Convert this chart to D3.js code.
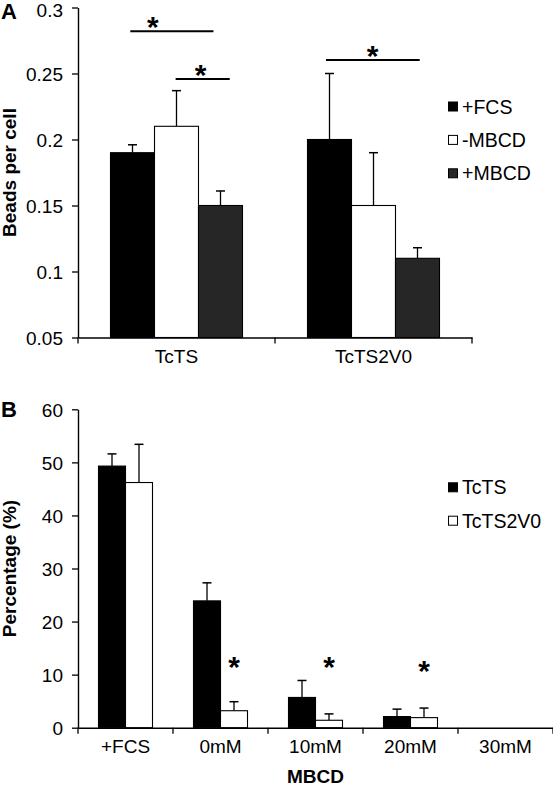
<!DOCTYPE html>
<html><head><meta charset="utf-8">
<script src="https://cdn.jsdelivr.net/npm/d3@7"></script>
<style>body{margin:0;background:#fff}svg{display:block}text{font-family:"Liberation Sans",Arial,sans-serif}</style>
</head><body>
<svg id="c" width="553" height="787"></svg>
<script>
// Panel A data
const catsA = ["TcTS", "TcTS2V0"];
const seriesA = ["+FCS", "-MBCD", "+MBCD"];
const valuesA = [[0.19, 0.21, 0.15], [0.20, 0.15, 0.11]];
const errTopA = [[0.196, 0.237, 0.161], [0.25, 0.19, 0.118]];
const ticksA = [0.05, 0.1, 0.15, 0.2, 0.25, 0.3];
const colorsA = ["#000000", "#ffffff", "#262626"];
// significance brackets (span in series-index units within a category)
const sigA = [
  {cat: "TcTS", from: -0.05, to: 1.84, y: 0.282, star: 0.46},
  {cat: "TcTS", from: 0.98, to: 2.21, y: 0.2458, star: 1.55},
  {cat: "TcTS2V0", from: -0.08, to: 2.05, y: 0.2602, star: 0.98}
];
// Panel B data
const catsB = ["+FCS", "0mM", "10mM", "20mM", "30mM"];
const seriesB = ["TcTS", "TcTS2V0"];
const valuesB = [[49.3, 46.2], [23.9, 3.2], [5.7, 1.4], [2.1, 1.9], [0, 0]];
const errTopB = [[51.6, 53.4], [27.3, 4.9], [8.9, 2.6], [3.5, 3.7], [0, 0]];
const ticksB = [0, 10, 20, 30, 40, 50, 60];
const colorsB = ["#000000", "#ffffff"];
const starsB = [{cat: "0mM", y: 12.4}, {cat: "10mM", y: 12.4}, {cat: "20mM", y: 11.6}];

const svg = d3.select("#c");
const F = '"Liberation Sans",Arial,sans-serif';

function panel(opt) {
  const g = svg.append("g");
  const y = d3.scaleLinear().domain(opt.ydom).range(opt.yr);
  const x = d3.scaleBand().domain(opt.cats).range(opt.xr);
  const bw = x.bandwidth();
  const xs = d3.scaleBand().domain(opt.series.map((d,i)=>i))
    .range([(bw - opt.groupW)/2, (bw + opt.groupW)/2]);
  opt.cats.forEach((c, ci) => {
    opt.series.forEach((s, si) => {
      const v = opt.values[ci][si];
      if (v <= opt.ydom[0]) return;
      const x0 = x(c) + xs(si);
      const cx = x0 + xs.bandwidth()/2;
      const e = opt.err[ci][si];
      g.append("line").attr("x1", cx).attr("x2", cx).attr("y1", y(v)).attr("y2", y(e))
        .attr("stroke", "#000").attr("stroke-width", 1.3);
      g.append("line").attr("x1", cx-4.5).attr("x2", cx+4.5).attr("y1", y(e)).attr("y2", y(e))
        .attr("stroke", "#000").attr("stroke-width", 1.5);
      g.append("rect").attr("x", x0).attr("width", xs.bandwidth())
        .attr("y", y(v)).attr("height", y(opt.ydom[0]) - y(v))
        .attr("fill", opt.colors[si]).attr("stroke", "#000").attr("stroke-width", 1.1);
    });
  });
  const ya = g.append("g").attr("transform", `translate(${opt.xr[0]},0)`)
    .call(d3.axisLeft(y).tickValues(opt.ticks).tickSize(6).tickPadding(9).tickSizeOuter(0)
      .tickFormat(opt.fmt));
  ya.select(".domain").attr("stroke-width", 1.4);
  ya.selectAll(".tick line").attr("stroke-width", 1.3);
  ya.selectAll("text").attr("font-family", F).attr("font-size", 19).attr("fill", "#000")
    .attr("dy", (d, i, n) => (opt.topShift && i === n.length - 1) ? "0.46em" : "0.36em");
  const xa = g.append("g").attr("transform", `translate(0,${opt.yr[0]})`)
    .call(d3.axisBottom(x).tickSize(0).tickPadding(12));
  xa.select(".domain").attr("stroke-width", 1.4);
  xa.selectAll("text").attr("font-family", F).attr("font-size", 19).attr("fill", "#000")
    .attr("dy", "0.71em");
  const bounds = opt.cats.map(c => x(c)).concat([opt.xr[1]]);
  g.selectAll(".bt").data(bounds).enter().append("line")
    .attr("x1", d => d).attr("x2", d => d).attr("y1", opt.yr[0]).attr("y2", opt.yr[0] + 6)
    .attr("stroke", "#000").attr("stroke-width", 1.3);
  opt.series.forEach((s, si) => {
    const ly = opt.legY + si * opt.legDy;
    g.append("rect").attr("x", 448.5).attr("y", ly - 4.5).attr("width", 9).attr("height", 9)
      .attr("fill", opt.colors[si]).attr("stroke", "#000").attr("stroke-width", 1);
    g.append("text").attr("x", 462).attr("y", ly + 7).attr("font-size", 19.5).attr("font-family", F)
      .text(s);
  });
  g.append("text").attr("transform", `translate(16,${(opt.yr[0]+opt.yr[1])/2}) rotate(-90)`)
    .attr("text-anchor", "middle").attr("font-weight", "bold").attr("font-size", 19)
    .attr("font-family", F).text(opt.ytitle);
  g.append("text").attr("x", 1).attr("y", opt.labY).attr("font-weight", "bold").attr("font-size", 22)
    .attr("font-family", F).text(opt.label);
  return {g, x, y, xs};
}

const A = panel({cats: catsA, series: seriesA, values: valuesA, err: errTopA, ticks: ticksA,
  colors: colorsA, ydom: [0.05, 0.3], yr: [337.5, 7.5], xr: [78, 472], groupW: 132,
  fmt: d3.format("~g"), legY: 106.5, legDy: 33.4, ytitle: "Beads per cell",
  label: "A", labY: 19, topShift: true});

sigA.forEach(s => {
  const base = A.x(s.cat) + A.xs(0), w = A.xs.bandwidth();
  const x1 = base + w * (s.from + 0.5);
  const x2 = base + w * (s.to + 0.5);
  const xm = base + w * (s.star + 0.5);
  const ly = A.y(s.y);
  A.g.append("line").attr("x1", x1).attr("x2", x2).attr("y1", ly).attr("y2", ly)
    .attr("stroke", "#000").attr("stroke-width", 2);
  A.g.append("text").attr("x", xm).attr("y", ly + 6).attr("text-anchor", "middle")
    .attr("font-weight", "bold").attr("font-size", 30).attr("font-family", F).text("*");
});

const B = panel({cats: catsB, series: seriesB, values: valuesB, err: errTopB, ticks: ticksB,
  colors: colorsB, ydom: [0, 60], yr: [727.7, 409.3], xr: [78, 553], groupW: 54,
  fmt: d3.format("d"), legY: 487.3, legDy: 33.4, ytitle: "Percentage (%)",
  label: "B", labY: 417, topShift: false});

starsB.forEach(s => {
  const cx = B.x(s.cat) + B.xs(1) + B.xs.bandwidth()/2;
  B.g.append("text").attr("x", cx).attr("y", B.y(s.y) + 15).attr("text-anchor", "middle")
    .attr("font-weight", "bold").attr("font-size", 30).attr("font-family", F).text("*");
});

svg.append("text").attr("x", 315.5).attr("y", 783).attr("text-anchor", "middle")
  .attr("font-weight", "bold").attr("font-size", 19).attr("font-family", F).text("MBCD");
</script>
</body></html>
